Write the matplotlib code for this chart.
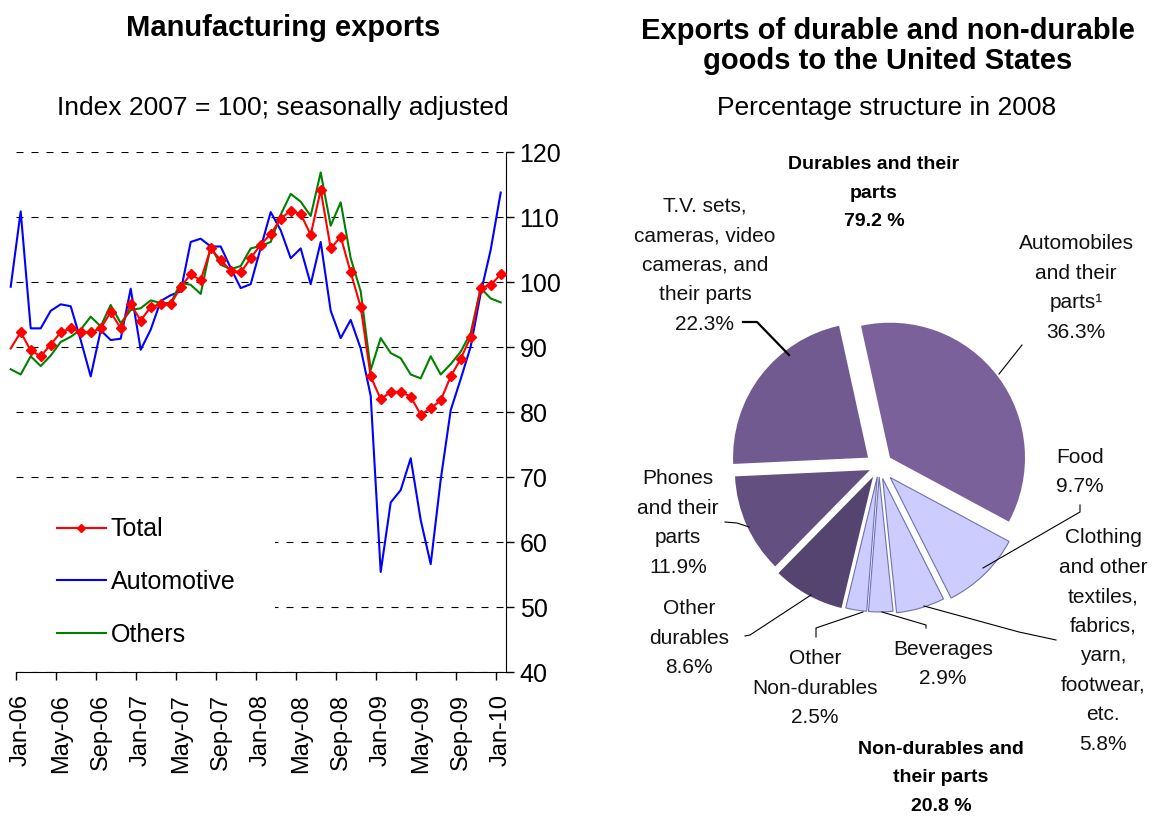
import matplotlib
matplotlib.use('Agg')
import matplotlib.pyplot as plt
import numpy as np
from matplotlib.patches import Rectangle

plt.rcParams['font.family'] = ['Liberation Sans', 'DejaVu Sans']

W, H = 1153, 816

# ---- left chart: monthly index, Dec-05 .. Jan-10 (Jan-06 = 0) ----
months = np.arange(-1, 49)
total = [89.8,
         92.3, 89.5, 88.6, 90.4, 92.3, 92.9, 92.3, 92.3, 92.9, 95.4, 92.9, 96.6,
         94.1, 96.2, 96.6, 96.6, 99.3, 101.2, 100.3, 105.2, 103.4, 101.8, 101.5, 103.7,
         105.8, 107.4, 109.8, 111.0, 110.5, 107.3, 114.2, 105.2, 107.0, 101.5, 96.2, 85.5,
         82.0, 83.1, 83.1, 82.4, 79.6, 80.6, 81.8, 85.5, 88.2, 91.6, 99.1, 99.6,
         101.2]
automotive = [99.3,
              110.9, 92.9, 92.9, 95.6, 96.6, 96.3, 91.1, 85.5, 92.6, 91.1, 91.3, 99.0,
              89.6, 92.7, 97.1, 98.0, 98.6, 106.2, 106.7, 105.5, 105.5, 102.2, 99.1, 99.7,
              105.3, 110.8, 108.0, 103.7, 105.2, 99.7, 106.2, 95.6, 91.4, 94.2, 89.8, 82.5,
              55.4, 66.1, 68.0, 72.9, 63.4, 56.6, 69.6, 80.3, 85.1, 90.1, 98.3, 105.0,
              113.8]
others = [86.6,
          85.8, 88.6, 87.1, 88.7, 90.8, 91.6, 92.7, 94.7, 93.2, 96.5, 93.7, 95.7,
          96.0, 97.2, 96.8, 96.8, 99.9, 99.6, 98.2, 105.5, 102.7, 102.0, 102.5, 105.2,
          105.6, 106.2, 110.4, 113.6, 112.4, 110.2, 116.9, 108.7, 112.3, 103.7, 98.6, 86.5,
          91.4, 89.1, 88.3, 85.8, 85.2, 88.6, 85.8, 87.4, 89.3, 92.2, 99.1, 97.5,
          96.9]
tick_labels = ['Jan-06', 'May-06', 'Sep-06', 'Jan-07', 'May-07', 'Sep-07', 'Jan-08',
               'May-08', 'Sep-08', 'Jan-09', 'May-09', 'Sep-09', 'Jan-10']
y_ticks = [40, 50, 60, 70, 80, 90, 100, 110, 120]

# ---- right chart: shares in 2008, clockwise from the top ----
pie_names = ['Automobiles', 'Food', 'Clothing', 'Beverages', 'Other non-durables',
             'Other durables', 'Phones', 'TV']
pie_values = [36.3, 9.7, 5.8, 2.9, 2.5, 8.6, 11.9, 22.3]
pie_texts = ['Automobiles\nand their\nparts\u00b9\n36.3%',
             'Food\n9.7%',
             'Clothing\nand other\ntextiles,\nfabrics,\nyarn,\nfootwear,\netc.\n5.8%',
             'Beverages\n2.9%',
             'Other\nNon-durables\n2.5%',
             'Other\ndurables\n8.6%',
             'Phones\nand their\nparts\n11.9%',
             'T.V. sets,\ncameras, video\ncameras, and\ntheir parts\n22.3%']
group_texts = ['Durables and their\nparts\n79.2 %', 'Non-durables and\ntheir parts\n20.8 %']

pie_colors = ['#7B6199', '#CCCCFF', '#CCCCFF', '#CCCCFF', '#CCCCFF',
              '#554470', '#634F80', '#705A90']
explode = [0.102, 0.119, 0.096, 0.081, 0.08, 0.091, 0.074, 0.102]

fig = plt.figure(figsize=(W / 100, H / 100), dpi=100)

def rect(x0, y0, x1, y1):
    # pixel box (top-left origin) -> figure fraction rect
    return [x0 / W, 1 - y1 / H, (x1 - x0) / W, (y1 - y0) / H]

# left line chart
ax = fig.add_axes(rect(15.7, 152.3, 505.7, 672))
l_auto, = ax.plot(months, automotive, color='#0000FF', lw=1.5, clip_on=False, zorder=3)
l_oth, = ax.plot(months, others, color='#008000', lw=1.5, clip_on=False, zorder=3)
l_tot, = ax.plot(months, total, color='#FF0000', lw=1.5, marker='D', ms=5.5,
                 markevery=slice(1, None), clip_on=False, zorder=4)
ax.set_xlim(-0.5, 48.5)
ax.set_ylim(40, 120)
ax.yaxis.tick_right()
ax.set_yticks(y_ticks)
ax.tick_params(axis='y', direction='out', length=6, width=1, pad=4, labelsize=18)
ax.set_xticks(np.arange(-0.5, 48, 4))
ax.set_xticks(np.arange(0, 49, 4), minor=True)
ax.set_xticklabels([])
ax.set_xticklabels(tick_labels, minor=True, rotation=90, fontsize=17)
ax.tick_params(axis='x', which='major', direction='out', length=6, width=1)
ax.tick_params(axis='x', which='minor', length=0, pad=16)
ax.yaxis.grid(True, color='black', lw=0.8, ls=(0, (6.3, 7.2)))
ax.set_axisbelow(True)
ax.spines['top'].set_visible(False)
ax.spines['left'].set_visible(False)

# right pie chart
pax = fig.add_axes(rect(676.5, 263.5, 1081.5, 668.5))
wedges, _ = pax.pie(pie_values, startangle=102.4, counterclock=False,
                    explode=explode, radius=1)
for w, c in zip(wedges, pie_colors):
    w.set_facecolor(c)
    if c == '#CCCCFF':
        w.set_edgecolor('#7070B0')
        w.set_linewidth(0.8)
    else:
        w.set_edgecolor('none')
pax.set_xlim(-1.5, 1.5)
pax.set_ylim(-1.5, 1.5)
pax.set_aspect('equal')
pax.axis('off')

# overlay in pixel coordinates for titles, labels and leaders
ov = fig.add_axes([0, 0, 1, 1])
ov.set_xlim(0, W)
ov.set_ylim(H, 0)
ov.axis('off')

ov.add_patch(Rectangle((16, 490), 259, 175, facecolor='white', edgecolor='none'))
ov.legend([l_tot, l_auto, l_oth], ['Total', 'Automotive', 'Others'],
          loc='center left', bbox_to_anchor=(57, 582), bbox_transform=ov.transData,
          frameon=False, fontsize=18, handlelength=1.95, handletextpad=0.2,
          labelspacing=1.15, borderpad=0, borderaxespad=0, markerscale=0.8)

ov.text(283, 28, 'Manufacturing exports', ha='center', va='center',
        fontsize=21, fontweight='bold')
ov.text(283, 108, 'Index 2007 = 100; seasonally adjusted', ha='center', va='center',
        fontsize=19)
ov.text(888, 46, 'Exports of durable and non-durable\ngoods to the United States',
        ha='center', va='center', fontsize=21, fontweight='bold', linespacing=1.1)
ov.text(887, 108, 'Percentage structure in 2008', ha='center', va='center', fontsize=19)

label_pos = [(1076, 288), (1080, 472), (1103, 641), (943, 664),
             (815, 688), (689, 638), (678, 523), (705, 265)]
for (x, y), t in zip(label_pos, pie_texts):
    ov.text(x, y, t, ha='center', va='center', fontsize=15, linespacing=1.7,
            color='#111111')
ov.text(874, 193, group_texts[0], ha='center', va='center', fontsize=14,
        fontweight='bold', linespacing=1.85)
ov.text(941, 778, group_texts[1], ha='center', va='center', fontsize=14,
        fontweight='bold', linespacing=1.85)

leaders = [([743, 757, 789], [322, 322, 355], 1.6),
           ([1022, 999], [345, 374], 0.8),
           ([1080, 1080, 983], [505, 512, 568], 0.8),
           ([924, 1019, 1056], [606, 632, 640], 0.8),
           ([882, 926, 926], [612, 625, 628], 0.8),
           ([863, 816, 816], [612, 628, 637], 0.8),
           ([811, 750, 745], [595, 635, 636], 0.8),
           ([725, 737, 749], [522, 523, 527], 0.8)]
for xs, ys, lw in leaders:
    ov.plot(xs, ys, color='black', lw=lw)

fig.savefig('out.png', dpi=100)
